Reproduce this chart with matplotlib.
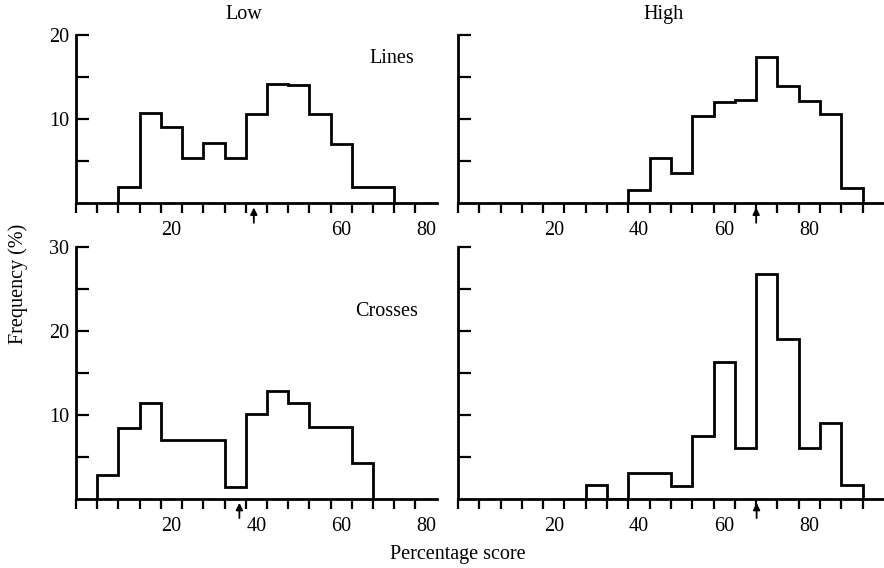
import matplotlib
matplotlib.use("Agg")
import matplotlib.pyplot as plt
import matplotlib.transforms as mtransforms
import numpy as np

plt.rcParams['font.family'] = ['Liberation Serif', 'DejaVu Serif']

# bin centres (percentage score), bins are 5 wide
low_lines_x = [10, 15, 20, 25, 30, 35, 40, 45, 50, 55, 60, 65, 70]
low_lines_y = [1.9, 10.7, 9.1, 5.4, 7.2, 5.4, 10.6, 14.2, 14.1, 10.6, 7.1, 2.0, 2.0]
high_lines_x = [40, 45, 50, 55, 60, 65, 70, 75, 80, 85, 90]
high_lines_y = [1.6, 5.4, 3.6, 10.4, 12.1, 12.3, 17.4, 13.9, 12.2, 10.6, 1.8]
low_crosses_x = [5, 10, 15, 20, 25, 30, 35, 40, 45, 50, 55, 60, 65]
low_crosses_y = [2.8, 8.4, 11.4, 7.0, 7.0, 7.0, 1.4, 10.1, 12.9, 11.4, 8.6, 8.6, 4.3]
high_crosses_x = [30, 35, 40, 45, 50, 55, 60, 65, 70, 75, 80, 85, 90]
high_crosses_y = [1.6, 0, 3.1, 3.1, 1.5, 7.5, 16.3, 6.1, 26.8, 19.1, 6.1, 9.0, 1.6]

# mean scores, marked by arrows
means = {"low_lines": 39.4, "high_lines": 67.5, "low_crosses": 36.0, "high_crosses": 67.6}

score_labels = [20, 40, 60, 80]

fig = plt.figure(figsize=(8.84, 5.68), dpi=100)
lw = 2.0
fs = 14.5

ax_tl = fig.add_axes([0.086, 0.642, 0.408, 0.296])
ax_tr = fig.add_axes([0.518, 0.642, 0.482, 0.296])
ax_bl = fig.add_axes([0.086, 0.122, 0.408, 0.443])
ax_br = fig.add_axes([0.518, 0.122, 0.482, 0.443])

panels = [
    (ax_tl, low_lines_x, low_lines_y, means["low_lines"], 20, (-2.5, 82.5), True, [20, 60, 80]),
    (ax_tr, high_lines_x, high_lines_y, means["high_lines"], 20, (-2.5, 97.5), False, score_labels),
    (ax_bl, low_crosses_x, low_crosses_y, means["low_crosses"], 30, (-2.5, 82.5), True, score_labels),
    (ax_br, high_crosses_x, high_crosses_y, means["high_crosses"], 30, (-2.5, 97.5), False, score_labels),
]

for ax, xs, ys, m, ymax, xlim, ylabels, xlabs in panels:
    xs = np.asarray(xs, dtype=float)
    edges = np.append(xs - 2.5, xs[-1] + 2.5)
    ax.stairs(ys, edges, baseline=0, color='black', linewidth=lw)
    ax.set_xlim(*xlim)
    ax.set_ylim(0, ymax)
    for s in ['top', 'right']:
        ax.spines[s].set_visible(False)
    for s in ['left', 'bottom']:
        ax.spines[s].set_linewidth(lw)

    # x: labels without marks, marks at bin edges
    ax.set_xticks(xlabs)
    ax.set_xticklabels([str(v) for v in xlabs])
    ax.tick_params(axis='x', which='major', length=0, pad=13, labelsize=fs)
    ax.set_xticks(np.arange(-2.5, xlim[1], 5), minor=True)
    ax.tick_params(axis='x', which='minor', direction='out', length=7, width=1.6)

    # y: inward marks every 5
    ax.set_yticks(np.arange(5, ymax + 1, 5))
    if ylabels:
        ax.set_yticklabels([str(int(v)) if v % 10 == 0 else '' for v in np.arange(5, ymax + 1, 5)])
    else:
        ax.set_yticklabels([])
    ax.tick_params(axis='y', direction='in', length=9, width=1.6, pad=5, labelsize=fs)

    # arrow marking the mean
    tip = mtransforms.offset_copy(ax.transData, fig=fig, y=-3, units='points')
    ax.annotate('', xy=(m, 0), xycoords=tip, xytext=(0, -11), textcoords='offset points',
                arrowprops=dict(arrowstyle='-|>', color='black', lw=1.3,
                                mutation_scale=10, shrinkA=0, shrinkB=0),
                annotation_clip=False)

ax_tl.text(72, 17.2, 'Lines', ha='center', va='center', fontsize=fs)
ax_bl.text(70.7, 22.3, 'Crosses', ha='center', va='center', fontsize=fs)

fig.text(0.276, 0.974, 'Low', ha='center', va='center', fontsize=fs)
fig.text(0.751, 0.974, 'High', ha='center', va='center', fontsize=fs)
fig.text(0.02, 0.50, 'Frequency (%)', rotation=90, ha='center', va='center', fontsize=fs)
fig.text(0.518, 0.024, 'Percentage score', ha='center', va='center', fontsize=fs)

fig.savefig('out.png', dpi=100)
